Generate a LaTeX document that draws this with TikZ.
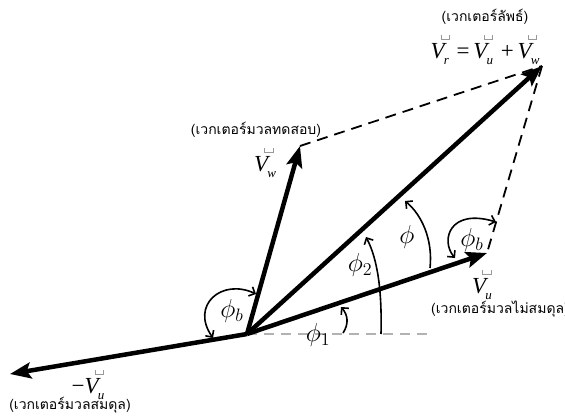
\RequirePackage{fix-cm}
\documentclass[tikz,border=0pt]{standalone}
\usepackage{graphicx}
\usepackage{fontspec}
\setmainfont{Liberation Serif}
\newfontfamily\thaifont[Script=Thai]{Loma}
\usetikzlibrary{arrows.meta}
\newcommand{\obox}{{\color{gray!80}\rule{0.6pt}{4.5pt}\rule{8pt}{0.6pt}\rule{0.6pt}{4.5pt}}}
\newcommand{\vv}[1]{\textit{V}\rlap{\kern-6pt\raisebox{19pt}{\obox}}\kern-3pt\raisebox{-6pt}{\fontsize{13}{13}\selectfont\textit{#1}}}
\newcommand{\phl}[1]{\scalebox{1.25}{$#1$}}
\begin{document}
\begin{tikzpicture}[x=1pt,y=1pt,
  vec/.style={line width=4.5pt,-{Stealth[length=21pt,width=16pt,inset=4pt]}},
  dashline/.style={line width=1.8pt,dash pattern=on 11pt off 7pt},
  grayline/.style={gray!60,line width=1.3pt,dash pattern=on 10pt off 7pt},
  arcarr/.style={line width=1.6pt,-{Straight Barb[length=5pt,width=10pt]}},
  dblarr/.style={line width=1.6pt,{Straight Barb[length=5pt,width=10pt]}-{Straight Barb[length=5pt,width=10pt]}},
  thaitxt/.style={font=\thaifont\fontsize{14}{16}\selectfont,inner sep=0pt},
  vlab/.style={font=\fontsize{23}{25}\selectfont,inner sep=0pt},
  phil/.style={font=\fontsize{20.74}{24}\selectfont,inner sep=0pt}]
\useasboundingbox (0,0) rectangle (565,-416);
\coordinate (O) at (247,-334);
\coordinate (Vr) at (542,-66);
\coordinate (Vu) at (487,-253);
\coordinate (Vw) at (300,-146);
\coordinate (mVu) at (10,-374);
\coordinate (H) at (432,-334);
% reference lines
\draw[grayline] (O) -- (H);
\draw[dashline] (Vw) -- (Vr);
\draw[dashline] (Vr) -- (Vu);
% vectors
\draw[vec] (O) -- (Vw);
\draw[vec] (O) -- (Vr);
\draw[vec] (O) -- (Vu);
\draw[vec] (O) -- (mVu);
% angle arcs
\coordinate (a1s) at (343,-333);
\coordinate (a1e) at (341,-307);
\draw[arcarr] (a1s) .. controls (349,-324) and (348,-315) .. (a1e);
\coordinate (a2s) at (381,-334);
\coordinate (a2e) at (366,-237);
\draw[arcarr] (a2s) .. controls (382,-292) and (378,-260) .. (a2e);
\coordinate (a3s) at (430,-268);
\coordinate (a3e) at (405,-201);
\draw[arcarr] (a3s) .. controls (433,-240) and (422,-215) .. (a3e);
\coordinate (b1s) at (256,-294);
\coordinate (b1e) at (213,-338);
\draw[dblarr] (b1s) .. controls (222,-278) and (190,-305) .. (b1e);
\coordinate (b2s) at (455,-258);
\coordinate (b2e) at (496,-222);
\draw[dblarr] (b2s) .. controls (440,-240) and (450,-208) .. (b2e);
% angle labels
\node[phil] (pb1) at (232,-311) {\phl{\phi_b}};
\node[phil] (pb2) at (472,-240) {\phl{\phi_b}};
\node[phil] (p1) at (318,-335) {\phl{\phi_1}};
\node[phil] (p2) at (360,-265) {\phl{\phi_2}};
\node[phil] (p) at (407,-237) {\phl{\phi}};
% texts
\node[thaitxt] (tr) at (485,-17) {(เวกเตอร์ลัพธ์)};
\node[vlab] (eq) at (485,-50) {\vv{r}\,\,=\,\vv{u}\,\,+\,\vv{w}};
\node[thaitxt] (tw) at (256,-130) {(เวกเตอร์มวลทดสอบ)};
\node[vlab] (lw) at (265,-163) {\vv{w}};
\node[vlab] (lu) at (482,-285) {\vv{u}};
\node[thaitxt,anchor=west] (tu) at (431,-309) {(เวกเตอร์มวลไม่สมดุล)};
\node[vlab] (lm) at (88,-385) {−\vv{u}};
\node[thaitxt] (tm) at (70,-405) {(เวกเตอร์มวลสมดุล)};
\end{tikzpicture}
\end{document}
